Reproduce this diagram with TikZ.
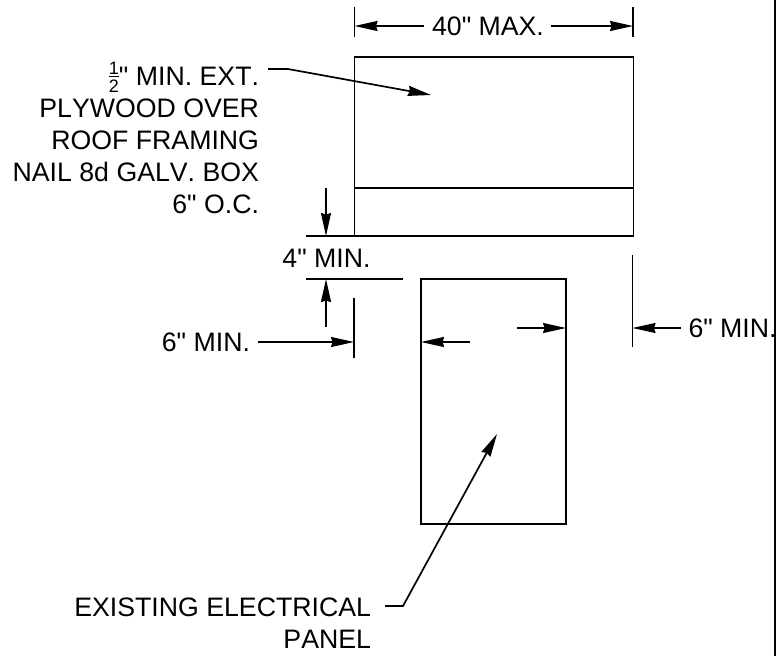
\documentclass[tikz,border=0pt]{standalone}
\usepackage{fontspec}
\newfontfamily\lblfont[Kerning=Off]{Liberation Sans}
\usetikzlibrary{arrows.meta}
\tikzset{
  lbl/.style={inner sep=0pt,outer sep=0pt,font=\lblfont\fontsize{26.7}{30}\selectfont},
  rlbl/.style={lbl,anchor=base east},
  llbl/.style={lbl,anchor=base west},
  box/.style={draw,line width=1.8pt,inner sep=0pt,outer sep=0pt,anchor=north west},
  ln/.style={line width=1.8pt},
  arr/.style={line width=1.7pt,-{Stealth[length=23pt,width=10pt,inset=1.5pt]}}
}
\newcommand{\halffrac}{\raisebox{-7pt}{\shortstack[c]{\fontsize{18}{18}\selectfont 1\\[-1.2pt]\rule{10pt}{1pt}\\[-0.6pt]\fontsize{18}{18}\selectfont 2}}}
\begin{document}
\begin{tikzpicture}[x=1pt,y=-1pt]
\useasboundingbox (0,0) rectangle (776,656);
% boxes
\node[box,minimum width=279pt,minimum height=179pt] (roof) at (354.5,57) {};
\node[box,minimum width=145pt,minimum height=245pt] (panel) at (421,279) {};
% coordinates
\coordinate (eave1) at (354.5,188); \coordinate (eave2) at (633.5,188);
\coordinate (ltA) at (354.5,7); \coordinate (ltB) at (354.5,37);
\coordinate (rtA) at (633,7); \coordinate (rtB) at (633,37);
\coordinate (b1) at (306,236); \coordinate (b2) at (354.5,236);
\coordinate (p1) at (306,279); \coordinate (p2) at (403,279);
\coordinate (lsA) at (354,298); \coordinate (lsB) at (354,358);
\coordinate (rsA) at (632.5,255); \coordinate (rsB) at (632.5,347);
\coordinate (plA) at (421,308); \coordinate (plB) at (421,360);
\coordinate (prA) at (566,308); \coordinate (prB) at (566,348);
\coordinate (bdA) at (775,0); \coordinate (bdB) at (775,656);
% text
\node[lbl,anchor=base] (wid) at (488,35.5) {40" MAX.};
\node[rlbl] (t1) at (259,85) {\halffrac" MIN. EXT.};
\node[rlbl] (t2) at (259,117) {PLYWOOD OVER};
\node[rlbl] (t3) at (259,149) {ROOF FRAMING};
\node[rlbl] (t4) at (259,181) {NAIL 8d GALV. BOX};
\node[rlbl] (t5) at (259,213) {6" O.C.};
\node[lbl,anchor=base] (four) at (326.5,267) {4" MIN.};
\node[rlbl] (sixl) at (250,351) {6" MIN.};
\node[llbl] (sixr) at (688.5,337) {6" MIN.};
\node[rlbl] (e1) at (371,616) {EXISTING ELECTRICAL};
\node[rlbl] (e2) at (371,648) {PANEL};
% lines
\draw[ln] (eave1) -- (eave2);
\draw[ln] (ltA) -- (ltB);
\draw[ln] (rtA) -- (rtB);
\draw[ln] (b1) -- (b2);
\draw[ln] (p1) -- (p2);
\draw[ln] (lsA) -- (lsB);
\draw[ln] (rsA) -- (rsB);
\draw[ln] (plA) -- (plB);
\draw[ln] (prA) -- (prB);
\draw[line width=2pt] (bdA) -- (bdB);
% arrows
\coordinate (a1s) at (424,26); \coordinate (a2s) at (551,26);
\draw[arr] (a1s) -- (ltA |- a1s);
\draw[arr] (a2s) -- (rtA |- a2s);
\coordinate (l1a) at (268,69); \coordinate (l1b) at (288,69); \coordinate (l1c) at (431,95);
\draw[arr] (l1a) -- (l1b) -- (l1c);
\coordinate (d1) at (326,188); \coordinate (d2) at (326,236);
\draw[arr] (d1) -- (d2);
\coordinate (u1) at (326,327); \coordinate (u2) at (326,279);
\draw[arr] (u1) -- (u2);
\coordinate (s1) at (258,342);
\draw[arr] (s1) -- (lsA |- s1);
\coordinate (i1) at (470,342);
\draw[arr] (i1) -- (plA |- i1);
\coordinate (i2) at (517,328);
\draw[arr] (i2) -- (prA |- i2);
\coordinate (s2) at (681,328);
\draw[arr] (s2) -- (rsA |- s2);
\coordinate (l2a) at (385,606); \coordinate (l2b) at (403,606); \coordinate (l2c) at (497,434);
\draw[arr] (l2a) -- (l2b) -- (l2c);
\end{tikzpicture}
\end{document}
